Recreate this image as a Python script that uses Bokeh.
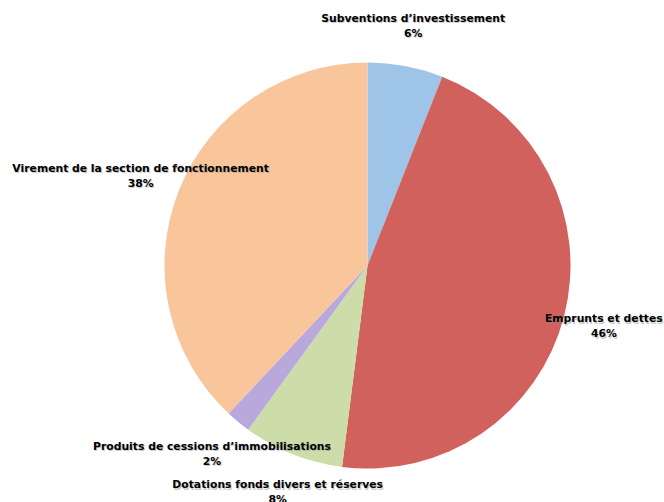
import math
from bokeh.plotting import figure
from bokeh.models import Range1d, ColumnDataSource
from bokeh.core.properties import value
from bokeh.embed import file_html
from bokeh.resources import INLINE

# Data
categories = [
    "Subventions d’investissement",
    "Emprunts et dettes",
    "Dotations fonds divers et réserves",
    "Produits de cessions d’immobilisations",
    "Virement de la section de fonctionnement",
]
shares = [6, 46, 8, 2, 38]
colors = ["#9EC4E8", "#D1615D", "#CCDDAA", "#B9A8DC", "#F9C69C"]

W, H = 664, 502
cx, cy = 367, 502 - 265
R = 203
label_r = 244

total = float(sum(shares))
starts, ends, lx, ly, pct = [], [], [], [], []
cum = 0.0
for s in shares:
    a0 = math.pi / 2 - 2 * math.pi * cum / total
    cum += s
    a1 = math.pi / 2 - 2 * math.pi * cum / total
    starts.append(a0)
    ends.append(a1)
    mid = (a0 + a1) / 2
    lx.append(cx + label_r * math.cos(mid))
    ly.append(cy + label_r * math.sin(mid))
    pct.append(f"{s}%")

src = ColumnDataSource(dict(start=starts, end=ends, color=colors,
                            lx=lx, ly=ly, name=categories, pct=pct))

p = figure(width=W, height=H, output_backend="svg", toolbar_location=None,
           x_range=Range1d(0, W), y_range=Range1d(0, H),
           min_border=0, outline_line_color=None)
p.axis.visible = False
p.xgrid.visible = False
p.ygrid.visible = False
p.background_fill_color = "white"

p.wedge(x=cx, y=cy, radius=R, start_angle="start", end_angle="end",
        direction="clock", fill_color="color", line_color=None, source=src)

font = value("DejaVu Sans")
for dx, dy, col, alpha in [(1, 1.5, "#888888", 0.45), (0, 0, "#000000", 1.0)]:
    p.text(x="lx", y="ly", text="name", source=src, x_offset=dx, y_offset=-7.5 + dy,
           text_font=font, text_font_style="bold", text_font_size="10.8px",
           text_align="center", text_baseline="middle", text_color=col, text_alpha=alpha)
    p.text(x="lx", y="ly", text="pct", source=src, x_offset=dx, y_offset=7.5 + dy,
           text_font=font, text_font_style="bold", text_font_size="10.8px",
           text_align="center", text_baseline="middle", text_color=col, text_alpha=alpha)

open("out.html", "w").write(file_html(p, INLINE))
